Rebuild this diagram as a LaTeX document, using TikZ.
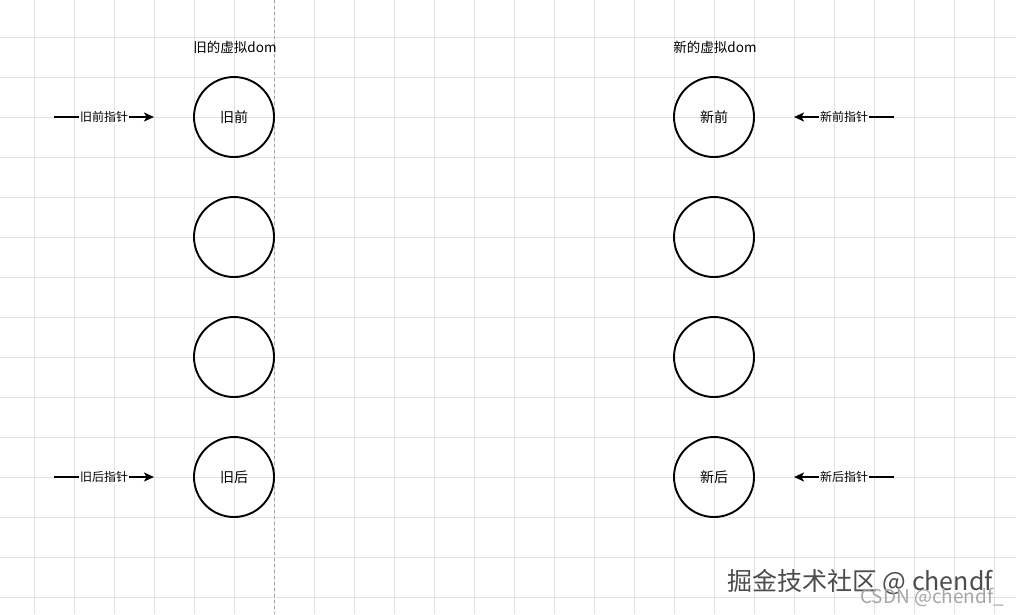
\documentclass[tikz,border=0pt]{standalone}
\usepackage{fontspec}
\setmainfont{Noto Sans CJK SC}
\usetikzlibrary{arrows.meta}
\definecolor{gridc}{HTML}{E2E2E2}
\tikzset{
  vnode/.style={circle, draw=black, line width=1.9pt, minimum size=80pt, inner sep=0pt, font=\fontsize{14}{14}\selectfont},
  title/.style={font=\fontsize{13.5}{14}\selectfont, inner sep=0pt},
  ptr/.style={draw=black, line width=1.6pt, -{Stealth[length=10pt,width=9pt,inset=2.5pt]}},
  ptrlabel/.style={fill=white, inner sep=1pt, font=\fontsize{12}{12}\selectfont},
}
\begin{document}
\begin{tikzpicture}[x=1pt,y=-1pt]
\useasboundingbox (0,0) rectangle (1016,614);
\fill[white] (0,0) rectangle (1016,614);
% grid
\foreach \x in {34.5,74.5,...,1000}{\draw[gridc, line width=0.8pt] (\x,0) -- (\x,614);}
\foreach \y in {37,77,...,600}{\draw[gridc, line width=0.8pt] (0,\y) -- (1016,\y);}
\draw[gray!70, line width=0.7pt, dash pattern=on 3pt off 3pt] (274.5,0) -- (274.5,614);
% titles
\node[title] (t1) at (235,47) {旧的虚拟dom};
\node[title] (t2) at (715,47) {新的虚拟dom};
% old nodes
\node[vnode] (o1) at (234,117) {旧前};
\node[vnode] (o2) at (234,237) {};
\node[vnode] (o3) at (234,357) {};
\node[vnode] (o4) at (234,477) {旧后};
% new nodes
\node[vnode] (n1) at (714,117) {新前};
\node[vnode] (n2) at (714,237) {};
\node[vnode] (n3) at (714,357) {};
\node[vnode] (n4) at (714,477) {新后};
% pointers
\coordinate (a1s) at (54,117);
\coordinate (a1e) at (154,117);
\coordinate (a2s) at (54,477);
\coordinate (a2e) at (154,477);
\coordinate (b1s) at (894,117);
\coordinate (b1e) at (794,117);
\coordinate (b2s) at (894,477);
\coordinate (b2e) at (794,477);
\draw[ptr] (a1s) -- node[ptrlabel] (l1) {旧前指针} (a1e);
\draw[ptr] (a2s) -- node[ptrlabel] (l2) {旧后指针} (a2e);
\draw[ptr] (b1s) -- node[ptrlabel] (l3) {新前指针} (b1e);
\draw[ptr] (b2s) -- node[ptrlabel] (l4) {新后指针} (b2e);
% watermarks
\node[font=\fontsize{25}{25}\selectfont, text=gray!60!black, anchor=base west, inner sep=0pt] (w1) at (727,590) {掘金技术社区 @ chendf};
\node[font=\fontsize{19}{19}\selectfont, text=gray!70, anchor=base west, inner sep=0pt] (w2) at (860,603) {CSDN @chendf\_};
\end{tikzpicture}
\end{document}
